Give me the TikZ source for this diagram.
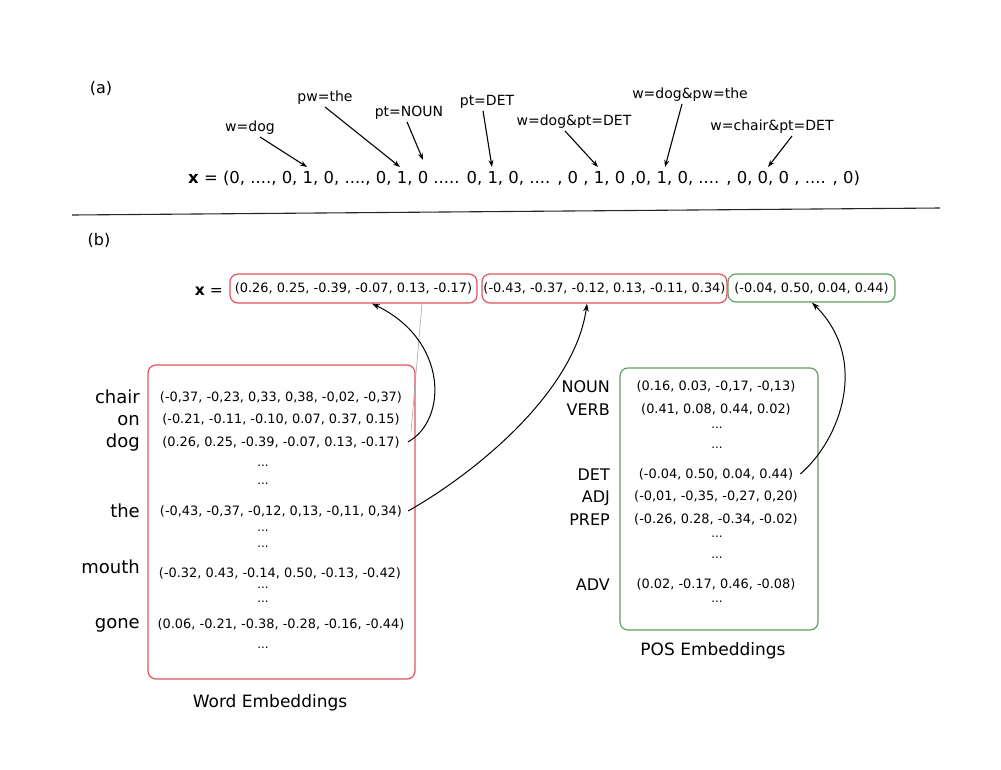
\documentclass[tikz,border=0pt]{standalone}
\usepackage{fontspec}
\setmainfont{DejaVu Sans}
\usetikzlibrary{arrows.meta}
\definecolor{boxred}{RGB}{226,82,92}
\definecolor{boxgreen}{RGB}{98,158,98}
\begin{document}
\begin{tikzpicture}[x=1pt,y=-1pt,
  lab/.style={font=\fontsize{14}{16}\selectfont, inner sep=2pt},
  vec/.style={font=\fontsize{12.9}{15}\selectfont, inner sep=0pt, anchor=base},
  dotsn/.style={font=\fontsize{12}{14}\selectfont, inner sep=0pt},
  wlab/.style={font=\fontsize{18}{20}\selectfont, inner sep=0pt, anchor=base east},
  plab/.style={font=\fontsize{16}{18}\selectfont, inner sep=0pt, anchor=base east},
  captext/.style={font=\fontsize{17}{19}\selectfont, inner sep=0pt, anchor=base},
  arr/.style={-{Stealth[length=7pt,width=5pt]}, line width=1.1pt, black},
  carr/.style={-{Stealth[length=8pt,width=5.5pt]}, line width=1pt, black},
  rbox/.style={draw=boxred, line width=1.2pt, rounded corners=8pt},
  gbox/.style={draw=boxgreen, line width=1.2pt, rounded corners=8pt}]
\useasboundingbox[fill=white] (0,0) rectangle (1001,769);

% ---------- (a) ----------
\node[font=\fontsize{16}{18}\selectfont, inner sep=0pt] (la) at (101,88) {(a)};
\node[font=\fontsize{16.45}{18}\selectfont, inner sep=0pt, anchor=base west] (xa) at (188,183)
  {{\bfseries x} = (0, ...., 0, 1, 0, ...., 0, 1, 0 ..... 0, 1, 0, .... , 0 , 1, 0 ,0, 1, 0, .... , 0, 0, 0 , .... , 0)};

\node[lab] (l1) at (250,128) {w=dog};
\node[lab] (l2) at (325,98) {pw=the};
\node[lab] (l3) at (409,113) {pt=NOUN};
\node[lab] (l4) at (487,102) {pt=DET};
\node[lab] (l5) at (574,122) {w=dog\&pt=DET};
\node[lab] (l6) at (690,95) {w=dog\&pw=the};
\node[lab] (l7) at (772,127) {w=chair\&pt=DET};

\coordinate (t1) at (307,167);
\coordinate (t2) at (400,167);
\coordinate (t3) at (423,160);
\coordinate (t4) at (492,167);
\coordinate (t5) at (598,167);
\coordinate (t6) at (665,167);
\coordinate (t7) at (768,167);

\draw[arr] ([xshift=10pt]l1.south) -- (t1);
\draw[arr] (l2.south) -- (t2);
\draw[arr] ([xshift=-2pt]l3.south) -- (t3);
\draw[arr] ([xshift=-4pt]l4.south) -- (t4);
\draw[arr] ([xshift=-9pt]l5.south) -- (t5);
\draw[arr] ([xshift=-8pt]l6.south) -- (t6);
\draw[arr] ([xshift=20pt]l7.south) -- (t7);

\coordinate (hl) at (72,215);
\coordinate (hr) at (940,208);
\draw[line width=1.1pt, black!85] (hl) -- (hr);

% ---------- (b) ----------
\node[font=\fontsize{16}{18}\selectfont, inner sep=0pt] (lb) at (99,240) {(b)};
\node[font=\fontsize{15.5}{17}\selectfont, inner sep=0pt, anchor=base east] (xb) at (223,295) {{\bfseries x} =};

\node[rbox, minimum width=247pt, minimum height=29pt, inner sep=0pt, font=\fontsize{12.9}{15}\selectfont] (b1) at (353.5,288.5)
  {(0.26, 0.25, -0.39, -0.07, 0.13, -0.17)};
\node[rbox, minimum width=245pt, minimum height=29pt, inner sep=0pt, font=\fontsize{12.9}{15}\selectfont] (b2) at (604.5,288.5)
  {(-0.43, -0.37, -0.12, 0.13, -0.11, 0.34)};
\node[gbox, minimum width=167pt, minimum height=28pt, inner sep=0pt, font=\fontsize{12.9}{15}\selectfont] (b3) at (811.5,288)
  {(-0.04, 0.50, 0.04, 0.44)};

% Word embeddings box
\node[rbox, minimum width=267pt, minimum height=314pt, inner sep=0pt] (wbox) at (281.5,522) {};
\node[wlab] (wchair) at (140,403) {chair};
\node[wlab] (won) at (140,425) {on};
\node[wlab] (wdog) at (140,447) {dog};
\node[wlab] (wthe) at (140,517) {the};
\node[wlab] (wmouth) at (140,573) {mouth};
\node[wlab] (wgone) at (140,628) {gone};

\node[vec] (vchair) at (281,401) {(-0,37, -0,23, 0,33, 0,38, -0,02, -0,37)};
\node[vec] (von) at (281,423) {(-0.21, -0.11, -0.10, 0.07, 0.37, 0.15)};
\node[vec] (vdog) at (281,446) {(0.26, 0.25, -0.39, -0.07, 0.13, -0.17)};
\node[dotsn] (wd1) at (263,466) {...};
\node[dotsn] (wd2) at (263,484) {...};
\node[vec] (vthe) at (281,515) {(-0,43, -0,37, -0,12, 0,13, -0,11, 0,34)};
\node[dotsn] (wd3) at (263,531) {...};
\node[dotsn] (wd4) at (263,547) {...};
\node[vec] (vmouth) at (280,577) {(-0.32, 0.43, -0.14, 0.50, -0.13, -0.42)};
\node[dotsn] (wd5) at (263,588) {...};
\node[dotsn] (wd6) at (263,602) {...};
\node[vec] (vgone) at (281,628) {(0.06, -0.21, -0.38, -0.28, -0.16, -0.44)};
\node[dotsn] (wd7) at (263,648) {...};
\node[captext] (wcap) at (270,707) {Word Embeddings};

% POS embeddings box
\node[gbox, minimum width=198pt, minimum height=262pt, inner sep=0pt] (pbox) at (719,499) {};
\node[plab] (pnoun) at (610,392) {NOUN};
\node[plab] (pverb) at (610,415) {VERB};
\node[plab] (pdet) at (610,480) {DET};
\node[plab] (padj) at (610,502) {ADJ};
\node[plab] (pprep) at (610,525) {PREP};
\node[plab] (padv) at (610,590) {ADV};

\node[vec] (qnoun) at (716,390) {(0.16, 0.03, -0,17, -0,13)};
\node[vec] (qverb) at (716,413) {(0.41, 0.08, 0.44, 0.02)};
\node[dotsn] (pd1) at (717,428) {...};
\node[dotsn] (pd2) at (717,448) {...};
\node[vec] (qdet) at (716,478) {(-0.04, 0.50, 0.04, 0.44)};
\node[vec] (qadj) at (716,500) {(-0,01, -0,35, -0,27, 0,20)};
\node[vec] (qprep) at (716,523) {(-0.26, 0.28, -0.34, -0.02)};
\node[dotsn] (pd3) at (717,537) {...};
\node[dotsn] (pd4) at (717,558) {...};
\node[vec] (qadv) at (716,588) {(0.02, -0.17, 0.46, -0.08)};
\node[dotsn] (pd5) at (717,602) {...};
\node[captext] (pcap) at (713,655) {POS Embeddings};

% connectors
\coordinate (g1) at (411,432);
\draw[black!35, line width=0.6pt] ([xshift=68.5pt]b1.south) -- (g1);
\draw[carr] ([xshift=8pt]vdog.east) .. controls (448,420) and (448,340) .. ([xshift=18.5pt]b1.south);
\draw[carr] ([xshift=6pt]vthe.east) .. controls (480,470) and (575,390) .. ([xshift=-17.5pt]b2.south);
\draw[carr] ([xshift=7pt]qdet.east) .. controls (840,440) and (870,360) .. ([xshift=0.5pt]b3.south);
\end{tikzpicture}
\end{document}
